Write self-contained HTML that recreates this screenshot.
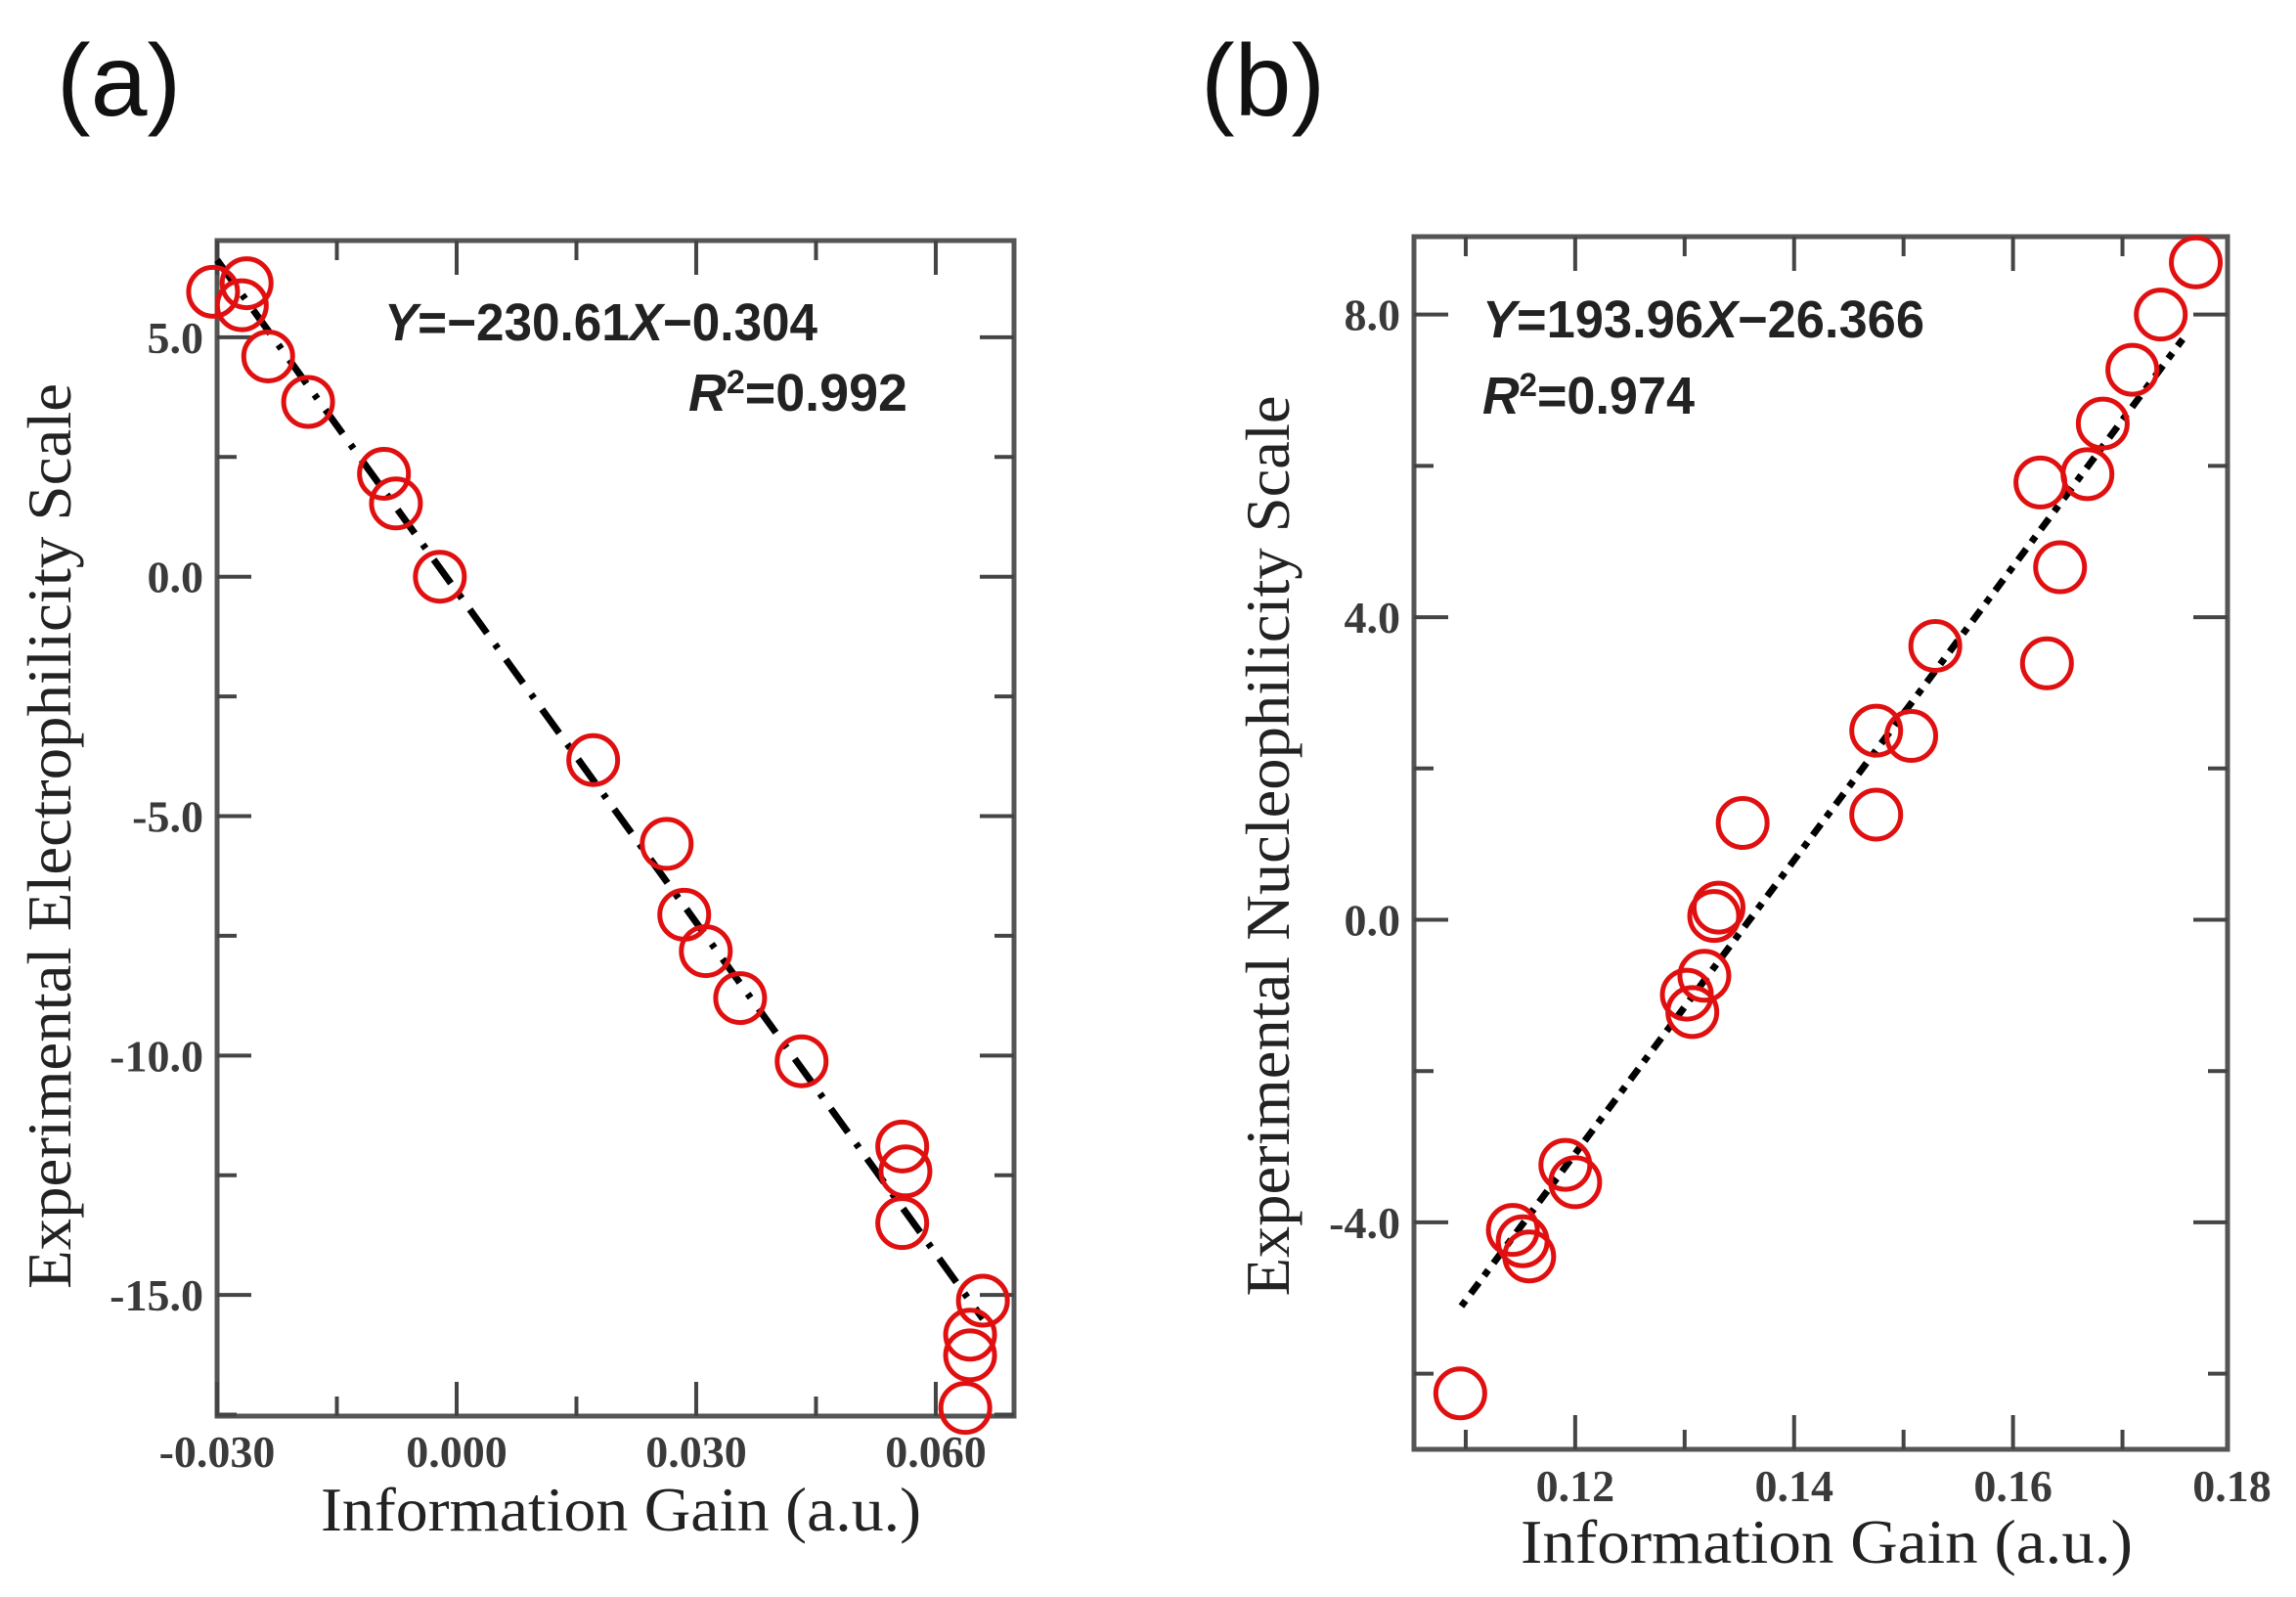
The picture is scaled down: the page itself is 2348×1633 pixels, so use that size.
<!DOCTYPE html>
<html><head><meta charset="utf-8">
<style>
html,body{margin:0;padding:0;background:#fff;}
svg{display:block;}
.tick{font-family:"Liberation Serif",serif;font-size:46px;fill:#3a3a3a;font-weight:bold;}
.title{font-family:"Liberation Serif",serif;font-size:64px;fill:#222;}
.eq{font-family:"Liberation Sans",sans-serif;font-size:54px;font-weight:bold;fill:#222;}
.lab{font-family:"Liberation Sans",sans-serif;font-size:104px;fill:#111;}
</style></head>
<body>
<svg id="fig" width="2348" height="1633" viewBox="0 0 2348 1633" xmlns="http://www.w3.org/2000/svg">
<text class="lab" x="58" y="118">(a)</text>
<text class="lab" x="1228" y="118">(b)</text>
<g id="pa"></g>
<g id="pb"></g>
<text class="eq" x="393" y="348" textLength="443" lengthAdjust="spacingAndGlyphs"><tspan font-style="italic">Y</tspan>=−230.61<tspan font-style="italic">X</tspan>−0.304</text>
<text class="eq" x="704" y="420" textLength="224" lengthAdjust="spacingAndGlyphs"><tspan font-style="italic">R</tspan><tspan dy="-18" font-size="34">2</tspan><tspan dy="18">=0.992</tspan></text>
<text class="eq" x="1516" y="345" textLength="452" lengthAdjust="spacingAndGlyphs"><tspan font-style="italic">Y</tspan>=193.96<tspan font-style="italic">X</tspan>−26.366</text>
<text class="eq" x="1516" y="423" textLength="217" lengthAdjust="spacingAndGlyphs"><tspan font-style="italic">R</tspan><tspan dy="-18" font-size="34">2</tspan><tspan dy="18">=0.974</tspan></text>
<text class="title" x="635" y="1565" text-anchor="middle" textLength="614" lengthAdjust="spacingAndGlyphs">Information Gain (a.u.)</text>
<text class="title" x="1868" y="1598" text-anchor="middle" textLength="626" lengthAdjust="spacingAndGlyphs">Information Gain (a.u.)</text>
<text class="title" transform="translate(72,855) rotate(-90)" text-anchor="middle" textLength="926" lengthAdjust="spacingAndGlyphs">Experimental Electrophilicity Scale</text>
<text class="title" transform="translate(1318,865) rotate(-90)" text-anchor="middle" textLength="921" lengthAdjust="spacingAndGlyphs">Experimental Nucleophilicity Scale</text>
</svg>
<script>
// Panel (a) data
const aX = [-0.0305,-0.0263,-0.0269,-0.0236,-0.0186,-0.0091,-0.0076,-0.0021,0.0171,0.0263,0.0285,0.0312,0.0355,0.0432,0.0558,0.0562,0.0558,0.0659,0.0643,0.0643,0.0637];
const aY = [5.95,6.13,5.67,4.6,3.65,2.15,1.53,0.0,-3.83,-5.58,-7.06,-7.82,-8.8,-10.12,-11.9,-12.42,-13.5,-15.12,-15.83,-16.26,-17.36];
const aXTicks = [-0.03,0.0,0.03,0.06];
const aXTickLabels = ["-0.030","0.000","0.030","0.060"];
const aYTicks = [5,0,-5,-10,-15];
const aYTickLabels = ["5.0","0.0","-5.0","-10.0","-15.0"];
const aFit = [-230.61,-0.304];
const aFitRange = [-0.03,0.0659];
// Panel (b) data
const bX = [0.1095,0.1143,0.1152,0.1158,0.1191,0.12,0.1302,0.1307,0.1318,0.1331,0.1327,0.1353,0.1475,0.1475,0.1507,0.1529,0.1631,0.1643,0.1625,0.1668,0.1682,0.1709,0.1735,0.1767];
const bY = [-6.26,-4.1,-4.25,-4.45,-3.24,-3.47,-0.99,-1.22,-0.74,0.16,0.05,1.28,1.39,2.5,2.43,3.62,3.39,4.66,5.78,5.89,6.56,7.27,8.0,8.69];
const bXTicks = [0.12,0.14,0.16,0.18];
const bXTickLabels = ["0.12","0.14","0.16","0.18"];
const bYTicks = [8,4,0,-4];
const bYTickLabels = ["8.0","4.0","0.0","-4.0"];
const bFit = [193.96,-26.366];
const bFitRange = [0.1096,0.1755];

const NS="http://www.w3.org/2000/svg";
function mk(tag,attrs,parent){const e=document.createElementNS(NS,tag);for(const k in attrs)e.setAttribute(k,attrs[k]);parent.appendChild(e);return e;}

function drawPanel(g,box,xd,yd,xs,ys,xt,xtl,xminor,yt,ytl,yminor,fit,fr,dash,xLabelY,key){
  const sx=v=>box.l+(v-xd[0])/(xd[1]-xd[0])*(box.r-box.l);
  const sy=v=>box.t+(yd[1]-v)/(yd[1]-yd[0])*(box.b-box.t);
  const frame=mk('rect',{x:box.l,y:box.t,width:box.r-box.l,height:box.b-box.t,fill:'none',stroke:'#555','stroke-width':5},g);
  
  
  for(let v=xminor[0];v<=xminor[1]+1e-9;v+=xminor[2]){
    const major=xt.some(t=>Math.abs(t-v)<1e-9);
    const L=major?35:20, X=sx(v);
    if(X<box.l-1||X>box.r+1)continue;
    const t1=mk('line',{x1:X,y1:box.b,x2:X,y2:box.b-L,stroke:'#444','stroke-width':4},g);
    
    
    const t2=mk('line',{x1:X,y1:box.t,x2:X,y2:box.t+L,stroke:'#444','stroke-width':4},g);
    
    
  }
  xt.forEach((v,i)=>{
    const t=mk('text',{x:sx(v),y:xLabelY,'text-anchor':'middle',class:'tick'},g);
    t.textContent=xtl[i];
    
    
  });
  for(let v=yminor[0];v<=yminor[1]+1e-9;v+=yminor[2]){
    const major=yt.some(t=>Math.abs(t-v)<1e-9);
    const L=major?35:20, Y=sy(v);
    if(Y<box.t-1||Y>box.b+1)continue;
    const t1=mk('line',{x1:box.l,y1:Y,x2:box.l+L,y2:Y,stroke:'#444','stroke-width':4},g);
    
    
    const t2=mk('line',{x1:box.r,y1:Y,x2:box.r-L,y2:Y,stroke:'#444','stroke-width':4},g);
    
    
  }
  yt.forEach((v,i)=>{
    const t=mk('text',{x:box.l-14,y:sy(v)+16,'text-anchor':'end',class:'tick'},g);
    t.textContent=ytl[i];
    
    
  });
  const ln=mk('line',{x1:sx(fr[0]),y1:sy(fit[0]*fr[0]+fit[1]),x2:sx(fr[1]),y2:sy(fit[0]*fr[1]+fit[1]),stroke:'#000','stroke-width':7,'stroke-dasharray':dash},g);
  
  
  xs.forEach((v,i)=>{
    const c=mk('ellipse',{cx:sx(v),cy:sy(ys[i]),rx:25,ry:25,fill:'none',stroke:'#e01010','stroke-width':5},g);
    
    
  });
}
drawPanel(document.getElementById('pa'),{l:222,t:246,r:1037,b:1448},[-0.03,0.0698],[-17.53,7.02],aX,aY,aXTicks,aXTickLabels,[-0.03,0.066,0.015],aYTicks,aYTickLabels,[-17.5,7,2.5],aFit,aFitRange,'30 14 5 14',1500,'panel-a');
drawPanel(document.getElementById('pb'),{l:1446,t:242,r:2278,b:1482},[0.10527,0.1796],[-7.0,9.03],bX,bY,bXTicks,bXTickLabels,[0.11,0.18,0.01],bYTicks,bYTickLabels,[-6,8,2],bFit,bFitRange,'7 9 14 9',1535,'panel-b');
</script>
</body></html>
